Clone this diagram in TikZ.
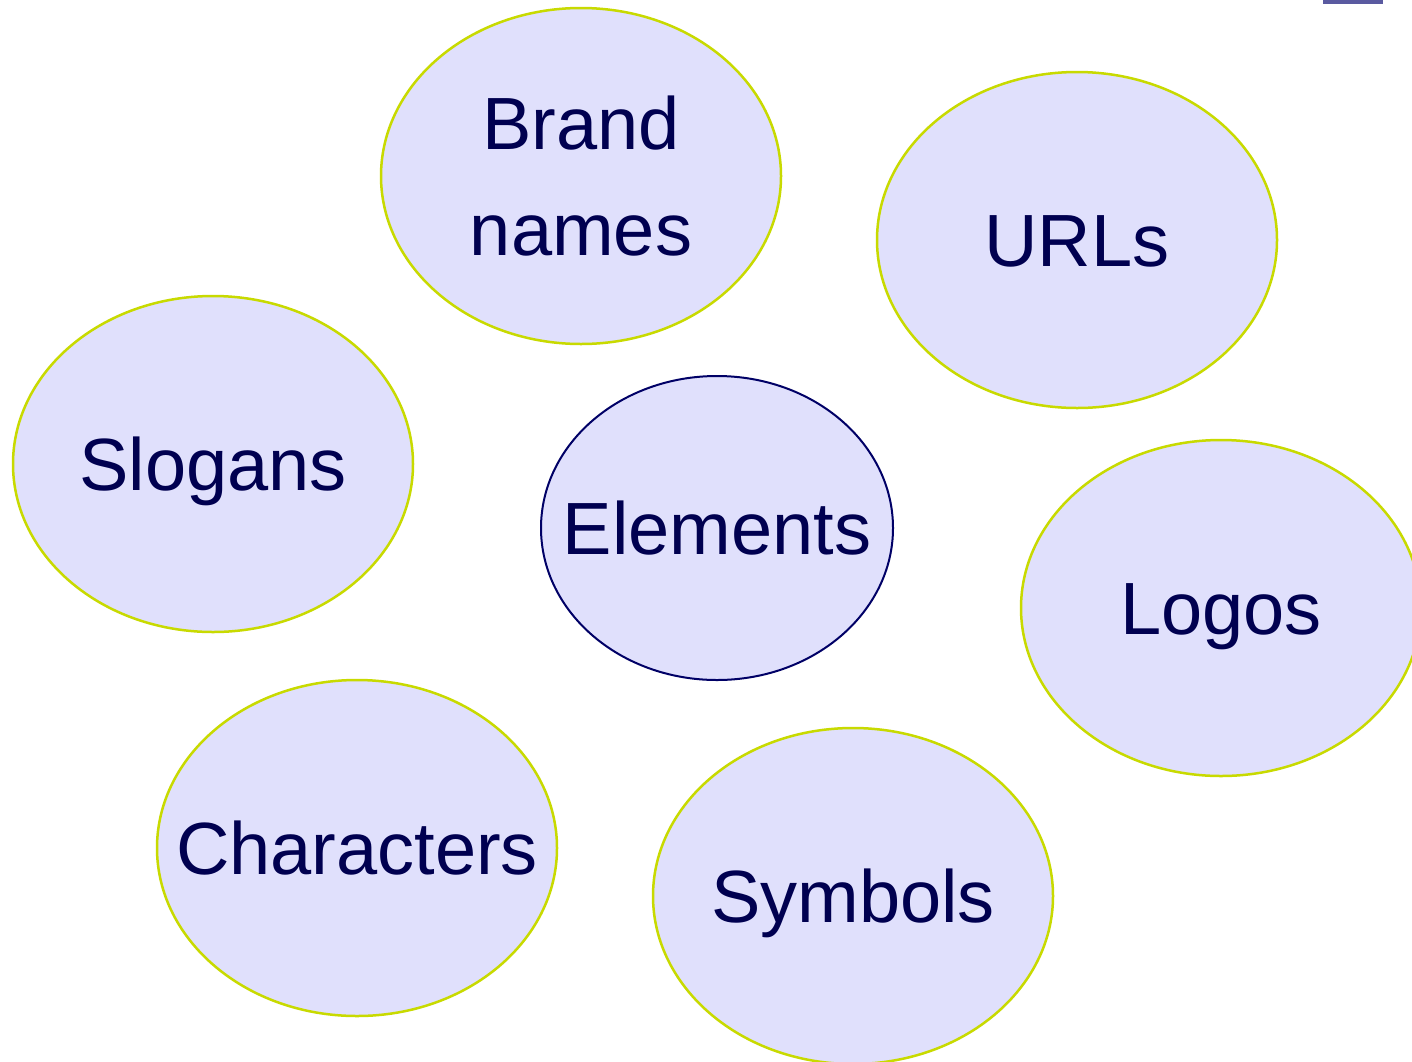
\documentclass[tikz,border=0pt]{standalone}
\usepackage{fontspec}
\setmainfont{Liberation Sans}
\usetikzlibrary{shapes.geometric}
\definecolor{bubblefill}{HTML}{E0E0FC}
\definecolor{limeline}{HTML}{C8DA00}
\definecolor{navyline}{HTML}{000066}
\definecolor{inktext}{HTML}{000050}
\definecolor{cornerbar}{HTML}{5A5AA0}
\newcommand\zerowd[1]{\makebox[0pt][c]{#1}}
\begin{document}
\begin{tikzpicture}[x=1pt,y=-1pt,
  bubble/.style={ellipse, draw=limeline, line width=2.5pt, fill=bubblefill,
    minimum width=400pt, minimum height=336pt, inner sep=0pt,
    text=inktext, font=\fontsize{74}{106}\selectfont},
  oneline/.style={text height=53pt, text depth=0pt},
  core/.style={bubble, draw=navyline, line width=2pt,
    minimum width=352pt, minimum height=304pt}]
\useasboundingbox (0,0) rectangle (1412,1061);
\clip (0,0) rectangle (1412,1061);
\fill[white] (0,0) rectangle (1412,1061);
\fill[cornerbar] (1323,-10) rectangle (1383,4);
\node[bubble, align=center] (brand) at (581,176) {Brand\\names};
\node[bubble, oneline] (urls) at (1077,240) {\zerowd{URLs}};
\node[bubble, oneline] (slogans) at (213,464) {\zerowd{Slogans}};
\node[core, oneline] (elements) at (717,528) {\zerowd{Elements}};
\node[bubble, oneline] (logos) at (1221,608) {\zerowd{Logos}};
\node[bubble, oneline] (characters) at (357,848) {\zerowd{Characters}};
\node[bubble, oneline] (symbols) at (853,896) {\zerowd{Symbols}};
\end{tikzpicture}
\end{document}
